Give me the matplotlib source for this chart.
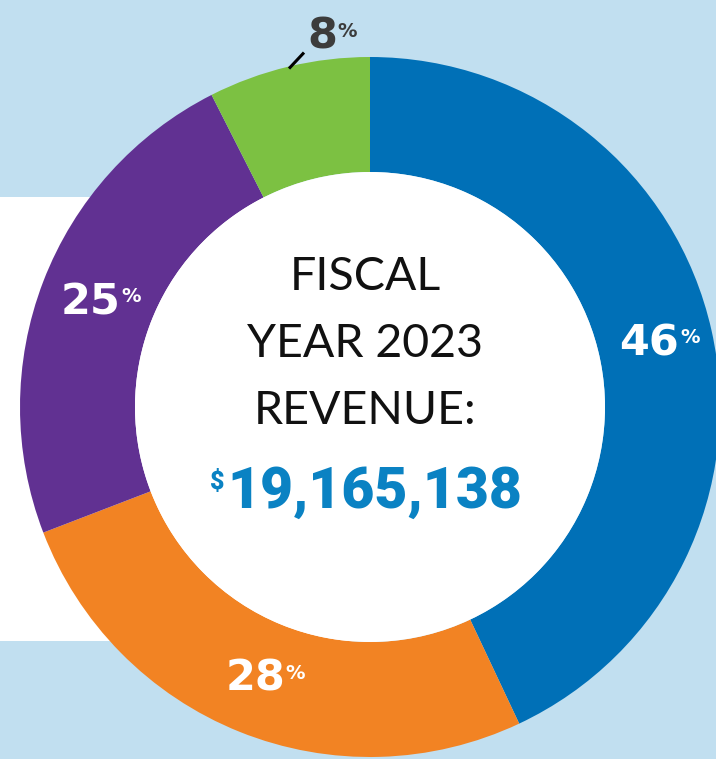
import numpy as np
import matplotlib.pyplot as plt
from matplotlib.patches import Circle, Rectangle

# revenue split, in percent as printed on the ring
shares = [46, 28, 25, 8]
share_colors = ['#0070b7', '#f28323', '#613192', '#7cc142']
label_colors = ['white', 'white', 'white', '#3c3c3c']
title_lines = ['FISCAL', 'YEAR 2023', 'REVENUE:']
total_revenue = 19165138

W, H = 716, 759
BG = '#c1dff0'

fig = plt.figure(figsize=(W / 100, H / 100), dpi=100)
fig.patch.set_facecolor(BG)
ax = fig.add_axes([0, 0, 1, 1])
ax.set_facecolor(BG)

cx, cy = 370, H - 407
r_out, r_in = 350, 235

# white panel sitting behind the left half of the ring
ax.add_patch(Rectangle((0, H - 641), cx, 641 - 197, facecolor='white',
                       edgecolor='none', zorder=0))

wedges, _ = ax.pie(shares, colors=share_colors, startangle=90, counterclock=False,
                   radius=r_out, center=(cx, cy),
                   wedgeprops=dict(width=r_out - r_in, edgecolor='none', linewidth=0))
ax.add_patch(Circle((cx, cy), r_in, facecolor='white', edgecolor='none', zorder=2))

ax.set_xlim(0, W)
ax.set_ylim(0, H)
ax.set_aspect('equal')
ax.axis('off')

pct_font = dict(family='DejaVu Sans', weight='bold')


def pct_label(x, y, value, color, ha='center'):
    t = ax.text(x, y, f'{value}', color=color, fontsize=31, ha=ha, va='center',
                zorder=5, **pct_font)
    ax.annotate('%', xy=(1, 1), xycoords=t, xytext=(0.5, -4.5), textcoords='offset points',
                color=color, fontsize=14, ha='left', va='top', zorder=5, **pct_font)


r_mid = (r_out + r_in) / 2
for w, v, c in zip(wedges[:-1], shares[:-1], label_colors[:-1]):
    a = np.deg2rad((w.theta1 + w.theta2) / 2)
    pct_label(cx + r_mid * np.cos(a) - 6, cy + r_mid * np.sin(a), v, c)

# smallest slice gets its label outside with a leader line
w = wedges[-1]
a = np.deg2rad((w.theta1 + w.theta2) / 2)
x0, y0 = cx + (r_out - 2) * np.cos(a), cy + (r_out - 2) * np.sin(a)
x1, y1 = x0 + 15, y0 + 16
ax.plot([x0, x1], [y0, y1], color='black', lw=2.2, solid_capstyle='butt', zorder=5)
pct_label(x1 + 3, y1 + 16, shares[-1], label_colors[-1], ha='left')

# centre title
for i, line in enumerate(title_lines):
    ax.text(365, H - 277 - 67 * i, line, fontsize=33.5, family='Lato',
            color='#111111', ha='center', va='center', zorder=5)

val = ax.text(375, H - 492, f'{total_revenue:,}', fontsize=41, color='#0a82c3',
              ha='center', va='center', zorder=5, family='Roboto', weight='black')
ax.annotate('$', xy=(0, 1), xycoords=val, xytext=(-2, -4), textcoords='offset points',
            color='#0a82c3', fontsize=18, ha='right', va='top', zorder=5,
            family='Roboto', weight='black')

fig.savefig('out.png', dpi=100, facecolor=BG)
